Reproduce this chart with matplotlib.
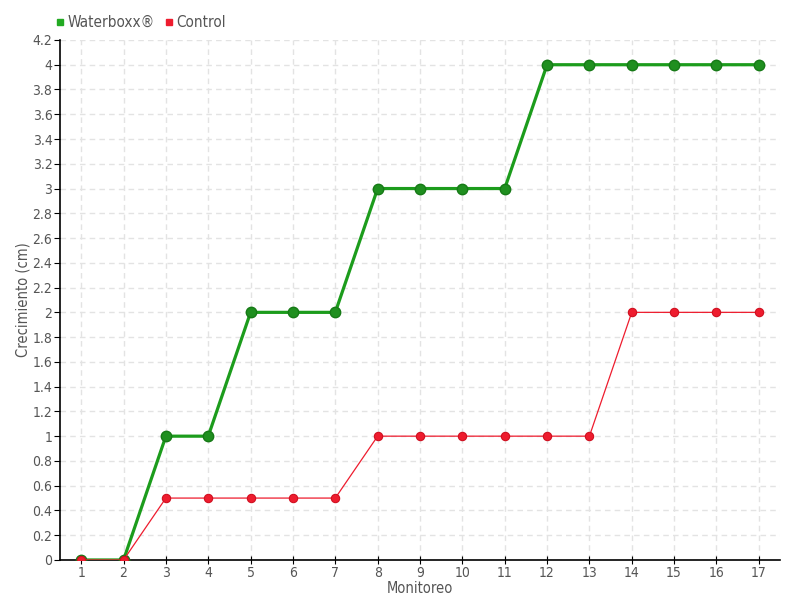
import matplotlib
matplotlib.use("Agg")
import matplotlib.pyplot as plt
from matplotlib.ticker import MultipleLocator, FuncFormatter
from matplotlib.lines import Line2D

plt.rcParams["font.family"] = ["DejaVu Sans"]
plt.rcParams["font.stretch"] = "condensed"

monitoreo = list(range(1, 18))
waterboxx = [0, 0, 1, 1, 2, 2, 2, 3, 3, 3, 3, 4, 4, 4, 4, 4, 4]
control = [0, 0, 0.5, 0.5, 0.5, 0.5, 0.5, 1, 1, 1, 1, 1, 1, 2, 2, 2, 2]

text_color = "#555555"
green = "#1c9c1c"
red = "#ee1c2e"

fig = plt.figure(figsize=(8, 6), dpi=100)
ax = fig.add_axes([0.075, 0.0667, 0.9, 0.8667])

ax.plot(monitoreo, waterboxx, color=green, lw=2.3, marker="o", ms=7.5,
        mfc="#1f8f1f", mec="#167a16", mew=1, zorder=3)
ax.plot(monitoreo, control, color=red, lw=0.9, marker="o", ms=6,
        mfc=red, mec="#d01020", mew=0.8, zorder=4)

ax.set_xlim(0.5, 17.5)
ax.set_ylim(0, 4.2)
ax.xaxis.set_major_locator(MultipleLocator(1))
ax.yaxis.set_major_locator(MultipleLocator(0.2))
ax.yaxis.set_major_formatter(FuncFormatter(lambda v, p: "%g" % round(v, 1)))

ax.grid(True, color="#e3e3e3", linestyle=(0, (4, 3)), linewidth=1)
ax.set_axisbelow(True)
for s in ["top", "right"]:
    ax.spines[s].set_visible(False)
for s in ["left", "bottom"]:
    ax.spines[s].set_linewidth(1.2)
    ax.spines[s].set_color("black")

ax.tick_params(axis="y", direction="out", length=4, colors="black",
               labelcolor=text_color, labelsize=10, pad=1.5)
ax.tick_params(axis="x", direction="inout", length=6, colors="black",
               labelcolor=text_color, labelsize=10, pad=1)

ax.set_xlabel("Monitoreo", color=text_color, fontsize=10.5)
ax.set_ylabel("Crecimiento (cm)", color=text_color, fontsize=10.5)
ax.xaxis.set_label_coords(0.5, -0.04)
ax.yaxis.set_label_coords(-0.041, 0.5)

handles = [
    Line2D([], [], ls="none", marker="s", ms=5, color="#22aa22"),
    Line2D([], [], ls="none", marker="s", ms=5, color=red),
]
fig.legend(handles, ["Waterboxx®", "Control"], loc="upper left",
           bbox_to_anchor=(0.052, 0.998), ncol=2, frameon=False,
           handlelength=0.6, handletextpad=0.2, columnspacing=0.6,
           labelcolor=text_color, fontsize=11)

fig.savefig("out.png", dpi=100)
